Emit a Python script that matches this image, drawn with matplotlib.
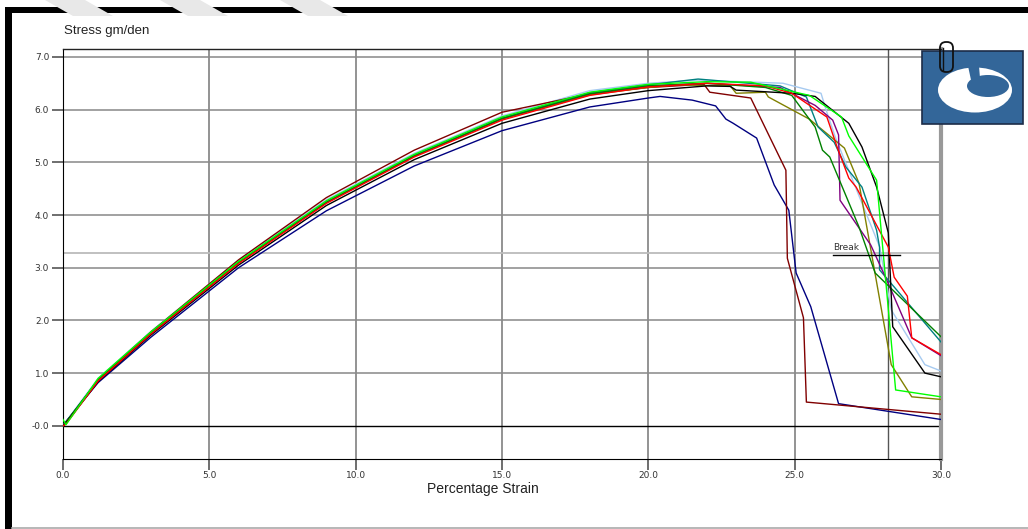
import matplotlib
matplotlib.use("Agg")
import matplotlib.pyplot as plt
from matplotlib.patches import Rectangle, Ellipse, FancyBboxPatch, Polygon

# common rising part (strain %)
rise_x = [0.0, 0.1, 1.2, 3.0, 6.0, 9.0, 12.0, 15.0, 18.0, 20.0]

# each test: colour, stress on the rising part, then the tail to break
navy_rise = [0.0, 0.08, 0.82, 1.68, 3.0, 4.08, 4.93, 5.6, 6.05, 6.22]
navy_tail_x = [20.4, 21.5, 22.3, 22.65, 22.9, 23.7, 24.3, 24.8, 25.05, 25.55, 26.5, 30.0]
navy_tail_y = [6.25, 6.18, 6.07, 5.82, 5.74, 5.46, 4.57, 4.09, 2.9, 2.26, 0.42, 0.12]

maroon_rise = [0.0, 0.05, 0.88, 1.78, 3.15, 4.33, 5.23, 5.95, 6.3, 6.42]
maroon_tail_x = [21.9, 22.1, 23.5, 24.2, 24.7, 24.75, 25.3, 25.4, 30.0]
maroon_tail_y = [6.48, 6.33, 6.22, 5.42, 4.85, 3.18, 2.05, 0.45, 0.22]

olive_rise = [0.0, 0.06, 0.86, 1.75, 3.1, 4.25, 5.12, 5.82, 6.28, 6.42]
olive_tail_x = [21.0, 22.8, 23.0, 24.0, 24.1, 24.8, 25.5, 26.7, 27.2, 28.3, 29.0, 30.0]
olive_tail_y = [6.47, 6.45, 6.31, 6.33, 6.24, 6.03, 5.82, 5.27, 4.6, 1.16, 0.55, 0.5]

green_rise = [0.0, 0.07, 0.87, 1.76, 3.1, 4.24, 5.12, 5.83, 6.3, 6.45]
green_tail_x = [22.0, 24.0, 24.9, 25.7, 25.95, 26.2, 27.2, 27.75, 30.0]
green_tail_y = [6.5, 6.42, 6.27, 5.67, 5.23, 5.1, 3.77, 2.9, 1.69]

teal_rise = [0.0, 0.07, 0.87, 1.76, 3.1, 4.24, 5.13, 5.84, 6.32, 6.47]
teal_tail_x = [21.7, 24.5, 25.4, 25.8, 26.35, 26.75, 27.3, 27.8, 27.9, 27.9, 30.0]
teal_tail_y = [6.58, 6.45, 6.24, 5.67, 5.38, 4.91, 4.53, 3.71, 3.39, 2.96, 1.59]

purple_rise = [0.0, 0.06, 0.86, 1.75, 3.1, 4.24, 5.12, 5.83, 6.3, 6.45]
purple_tail_x = [22.0, 24.5, 25.7, 26.3, 26.5, 26.55, 27.6, 28.2, 29.0, 30.0]
purple_tail_y = [6.5, 6.42, 6.08, 5.8, 5.52, 4.28, 3.43, 2.7, 1.67, 1.33]

red_rise = [0.0, 0.03, 0.85, 1.74, 3.08, 4.22, 5.1, 5.8, 6.27, 6.43]
red_tail_x = [22.0, 24.0, 24.9, 26.1, 26.45, 26.85, 27.1, 28.2, 28.4, 28.85, 29.0, 30.0]
red_tail_y = [6.5, 6.45, 6.31, 5.86, 5.29, 4.7, 4.53, 3.39, 2.82, 2.46, 1.67, 1.35]

lime_rise = [0.12, 0.02, 0.9, 1.78, 3.12, 4.27, 5.15, 5.86, 6.33, 6.48]
lime_tail_x = [22.0, 23.5, 25.5, 26.6, 26.85, 27.8, 28.45, 30.0]
lime_tail_y = [6.53, 6.52, 6.27, 5.86, 5.5, 4.66, 0.68, 0.55]

black_rise = [0.0, 0.05, 0.84, 1.72, 3.05, 4.18, 5.05, 5.74, 6.2, 6.36]
black_tail_x = [22.0, 22.8, 23.0, 24.9, 25.7, 26.85, 27.3, 27.8, 28.2, 28.35, 29.45, 30.0]
black_tail_y = [6.45, 6.44, 6.37, 6.31, 6.25, 5.74, 5.29, 4.53, 3.66, 1.88, 1.0, 0.93]

lblue_rise = [0.0, 0.08, 0.9, 1.79, 3.14, 4.29, 5.17, 5.88, 6.36, 6.5]
lblue_tail_x = [21.7, 24.6, 25.9, 26.1, 26.4, 27.9, 28.3, 29.45, 30.0]
lblue_tail_y = [6.56, 6.5, 6.31, 5.95, 5.46, 3.4, 2.2, 1.16, 1.04]

series = [
    ("#a6caf0", lblue_rise, lblue_tail_x, lblue_tail_y),
    ("#000080", navy_rise, navy_tail_x, navy_tail_y),
    ("#800000", maroon_rise, maroon_tail_x, maroon_tail_y),
    ("#808000", olive_rise, olive_tail_x, olive_tail_y),
    ("#008080", teal_rise, teal_tail_x, teal_tail_y),
    ("#800080", purple_rise, purple_tail_x, purple_tail_y),
    ("#008000", green_rise, green_tail_x, green_tail_y),
    ("#000000", black_rise, black_tail_x, black_tail_y),
    ("#ff0000", red_rise, red_tail_x, red_tail_y),
    ("#00ff00", lime_rise, lime_tail_x, lime_tail_y),
]

break_strain = 28.2
break_stress = 3.28
xticks = [0.0, 5.0, 10.0, 15.0, 20.0, 25.0, 30.0]
yticks = [0.0, 1.0, 2.0, 3.0, 4.0, 5.0, 6.0, 7.0]

W, H = 1028, 529
fig = plt.figure(figsize=(W / 100, H / 100), dpi=100)
fig.patch.set_facecolor("white")

ax = fig.add_axes([63 / W, 1 - 459 / H, (941 - 63) / W, (459 - 49) / H])
ax.set_xlim(0, 30)
ax.set_ylim(-0.63, 7.15)

for v in yticks[1:]:
    ax.axhline(v, color="#9a9a9a", lw=1.3, zorder=1)
for v in xticks[1:-1]:
    ax.axvline(v, color="#8a8a8a", lw=1.3, zorder=1)
ax.axhline(0, color="black", lw=1.0, zorder=2)
ax.axhline(break_stress, color="#bbbbbb", lw=1.3, zorder=1)
ax.axvline(break_strain, color="#555555", lw=1.0, zorder=1)

for color, ry, tx, ty in series:
    ax.plot(rise_x + tx, ry + ty, color=color, lw=1.0, zorder=3)

ax.plot([26.3, 28.6], [break_stress - 0.03, break_stress - 0.03], color="black", lw=1.0, zorder=4)
ax.text(26.3, break_stress + 0.02, "Break", fontsize=6.5, family="DejaVu Sans",
        color="#333333", va="bottom", ha="left", zorder=4)

ax.set_xticks(xticks)
ax.set_xticklabels([f"{v:.1f}" for v in xticks])
ax.set_yticks(yticks)
ax.set_yticklabels(["-0.0"] + [f"{v:.1f}" for v in yticks[1:]])
ax.tick_params(axis="both", direction="out", length=8, width=1.2, color="#555555",
               labelsize=6.5, labelcolor="#333333", pad=2)
ax.tick_params(axis="x", pad=1)
for lab in ax.get_xticklabels() + ax.get_yticklabels():
    lab.set_family("DejaVu Sans")

ax.spines["left"].set_color("black")
ax.spines["bottom"].set_color("black")
ax.spines["top"].set_color("#222222")
ax.spines["top"].set_linewidth(1.0)
ax.spines["right"].set_color("#999999")
ax.spines["right"].set_linewidth(3)

fig.text(64 / W, 1 - 31 / H, "Stress gm/den", fontsize=9.5, family="Liberation Sans",
         color="#222222", va="center", ha="left")
fig.text(483 / W, 1 - 489 / H, "Percentage Strain", fontsize=10, family="Liberation Sans",
         color="#222222", va="center", ha="center")

# decoration overlay in pixel coordinates
ov = fig.add_axes([0, 0, 1, 1], zorder=10)
ov.set_xlim(0, W)
ov.set_ylim(H, 0)
ov.axis("off")
ov.patch.set_alpha(0)

ov.add_patch(Rectangle((5, 7), W - 5, 6, color="black", lw=0))
ov.add_patch(Rectangle((5, 7), 7, H - 7, color="black", lw=0))
ov.plot([12, W], [527.5, 527.5], color="#aaaaaa", lw=1.2)
for x0 in [45, 160, 280]:
    ov.add_patch(Polygon([[x0, 0], [x0 + 40, 0], [x0 + 68, 16], [x0 + 28, 16]],
                         closed=True, color="#e8e8e8", lw=0))

# logo
ov.add_patch(Rectangle((922, 51), 101, 73, facecolor="#336699", edgecolor="#1c2c48", lw=1.2))
ov.add_patch(Ellipse((975, 90), 74, 45, color="white", lw=0))
ov.add_patch(Ellipse((988, 86), 42, 22, color="#336699", lw=0))
ov.add_patch(Polygon([[968, 66], [979, 66], [980, 78], [971, 80]], closed=True,
                     color="#336699", lw=0))
ov.add_patch(FancyBboxPatch((940, 42), 13, 30, boxstyle="round,pad=0,rounding_size=6",
                            facecolor="none", edgecolor="#111111", lw=1.3))
ov.plot([943, 943], [48, 70], color="#111111", lw=1.0)

fig.savefig("out.png", dpi=100)
